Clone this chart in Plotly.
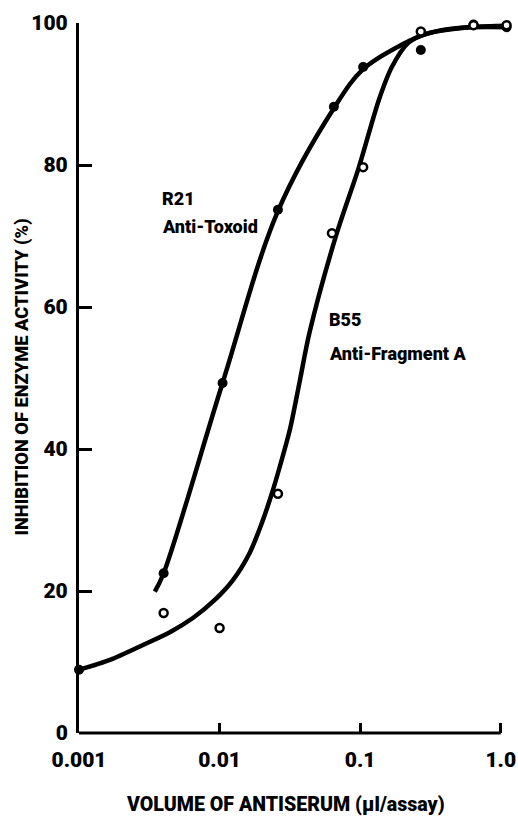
import math
import plotly.graph_objects as go

# R21 Anti-Toxoid (filled dots)
r21_x = [0.004, 0.0105, 0.026, 0.065, 0.105, 0.27, 0.64, 1.1]
r21_y = [22.5, 49.3, 73.7, 88.2, 93.8, 96.2, 99.8, 99.4]
# R21 fitted curve
r21_cx = [0.00346, 0.004, 0.0105, 0.026, 0.065, 0.105, 0.2, 0.3, 0.5, 1.15]
r21_cy = [19.9, 22.5, 49.3, 73.5, 88.0, 93.5, 97.0, 98.5, 99.3, 99.4]

# B55 Anti-Fragment A (open circles)
b55_x = [0.004, 0.01, 0.026, 0.063, 0.105, 0.27, 0.64, 1.1]
b55_y = [16.9, 14.8, 33.7, 70.4, 79.7, 98.8, 99.7, 99.7]
b55_start_x = [0.001]
b55_start_y = [8.9]
# B55 fitted curve
b55_cx = [0.001, 0.00166, 0.00285, 0.00443, 0.00646, 0.0092, 0.0124, 0.0164, 0.02, 0.0236, 0.0268,
          0.0316, 0.0373, 0.0435, 0.067, 0.098, 0.136, 0.168, 0.22, 0.3, 0.6, 1.15]
b55_cy = [8.9, 10.3, 12.4, 14.2, 16.2, 18.7, 21.5, 25.4, 29.6, 33.8, 37.5,
          42.7, 49.7, 56.3, 69.9, 79.7, 89.2, 93.8, 97.2, 98.5, 99.4, 99.6]

x_tickvals = [0.001, 0.01, 0.1, 1.0]
x_ticktext = ["0.001", "0.01", "0.1", "1.0"]
y_tickvals = [0, 20, 40, 60, 80, 100]

labels = ["R21", "Anti-Toxoid", "B55", "Anti-Fragment A"]
label_x = [0.00375, 0.00375, 0.0577, 0.0577]
label_y = [75.3, 71.3, 58.2, 53.5]

XMIN, XMAX = -3, 0.08  # log10 range

FONT = "Roboto, Open Sans Condensed, sans-serif"

fig = go.Figure()
fig.add_trace(go.Scatter(x=r21_cx, y=r21_cy, mode="lines", line=dict(color="black", width=4.5, shape="spline", smoothing=1.0),
                         showlegend=False, hoverinfo="skip"))
fig.add_trace(go.Scatter(x=b55_cx, y=b55_cy, mode="lines", line=dict(color="black", width=4.5, shape="spline", smoothing=0.8),
                         showlegend=False, hoverinfo="skip"))
fig.add_trace(go.Scatter(x=r21_x, y=r21_y, mode="markers", marker=dict(color="black", size=10),
                         cliponaxis=False, showlegend=False))
fig.add_trace(go.Scatter(x=b55_start_x, y=b55_start_y, mode="markers", marker=dict(color="black", size=10),
                         cliponaxis=False, showlegend=False))
fig.add_trace(go.Scatter(x=b55_x, y=b55_y, mode="markers",
                         marker=dict(color="white", size=8, line=dict(color="black", width=2.5)),
                         cliponaxis=False, showlegend=False))

for t, lx, ly in zip(labels, label_x, label_y):
    fig.add_annotation(x=math.log10(lx), y=ly, xref="x", yref="y", text=t, showarrow=False,
                       xanchor="left", yanchor="middle", align="left",
                       font=dict(family=FONT, size=18, color="black", weight=900))

# axis titles
fig.add_annotation(x=0.478, y=-0.101, xref="paper", yref="paper", text="VOLUME OF ANTISERUM (µl/assay)",
                   showarrow=False, xanchor="center", yanchor="middle",
                   font=dict(family=FONT, size=19.6, color="black", weight=900))
fig.add_annotation(x=-0.131, y=0.501, xref="paper", yref="paper", text="INHIBITION OF ENZYME ACTIVITY (%)",
                   showarrow=False, xanchor="center", yanchor="middle", textangle=-90,
                   font=dict(family=FONT, size=18.3, color="black", weight=900))

# x-axis baseline from 0.001 to 1.0
fig.add_shape(type="line", xref="paper", yref="paper", x0=0, x1=(math.log10(1.0) - XMIN) / (XMAX - XMIN),
              y0=0, y1=0, line=dict(color="black", width=3))

fig.update_xaxes(type="log", range=[XMIN, XMAX], tickvals=x_tickvals, ticktext=x_ticktext,
                 showline=False, ticks="inside", ticklen=10, tickwidth=3,
                 tickcolor="black", showgrid=False, zeroline=False, automargin=False,
                 tickfont=dict(family=FONT, size=21, color="black", weight=900),
                 ticklabelstandoff=12)
fig.update_yaxes(range=[0, 100], tickvals=y_tickvals, showline=True, linecolor="black", linewidth=3,
                 ticks="inside", ticklen=13, tickwidth=3, tickcolor="black", showgrid=False, zeroline=False,
                 automargin=False,
                 tickfont=dict(family=FONT, size=21, color="black", weight=900),
                 ticklabelstandoff=4)

fig.update_layout(width=518, height=816, margin=dict(l=79, r=6, t=23, b=83),
                  paper_bgcolor="white", plot_bgcolor="white", template="none")
fig.write_html("out.html")
